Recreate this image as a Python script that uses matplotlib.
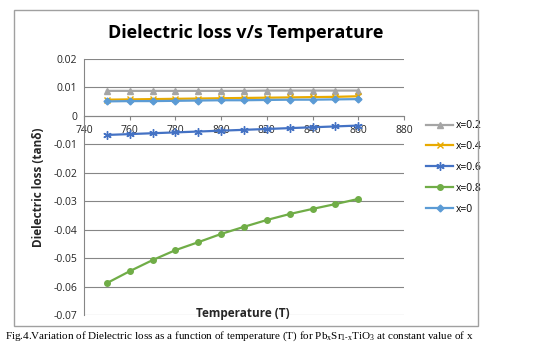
import matplotlib
matplotlib.use("Agg")
import matplotlib.pyplot as plt
from matplotlib.patches import Rectangle

temps = [750, 760, 770, 780, 790, 800, 810, 820, 830, 840, 850, 860]
loss_02 = [0.0088, 0.0088, 0.0088, 0.0088, 0.0088, 0.0088, 0.0088, 0.0089, 0.0089, 0.0089, 0.0089, 0.0089]
loss_04 = [0.0057, 0.0058, 0.0059, 0.0060, 0.0061, 0.0062, 0.0063, 0.0064, 0.0065, 0.0066, 0.0067, 0.0069]
loss_06 = [-0.0067, -0.0064, -0.0061, -0.0058, -0.0055, -0.0052, -0.0049, -0.0046, -0.0043, -0.0040, -0.0037, -0.0034]
loss_08 = [-0.0588, -0.0546, -0.0507, -0.0472, -0.0444, -0.0415, -0.0390, -0.0366, -0.0345, -0.0327, -0.0310, -0.0292]
loss_00 = [0.0051, 0.0052, 0.0052, 0.0053, 0.0054, 0.0055, 0.0055, 0.0056, 0.0057, 0.0057, 0.0058, 0.0059]

series = [
    ("x=0.2", loss_02, "#A5A5A5", "^", 5),
    ("x=0.4", loss_04, "#E8AA00", "x", 5),
    ("x=0.6", loss_06, "#4472C4", (6, 2, 0), 6),
    ("x=0.8", loss_08, "#70AD47", "o", 4),
    ("x=0", loss_00, "#5B9BD5", "D", 3.5),
]

plt.rcParams["font.family"] = ["Open Sans", "DejaVu Sans"]

fig = plt.figure(figsize=(5.36, 3.5), dpi=100)
fig.patches.append(Rectangle((14 / 536, 1 - 326 / 350), 464 / 536, 316 / 350,
                             transform=fig.transFigure, fill=False,
                             edgecolor="#A0A0A0", linewidth=1.0))

ax = fig.add_axes([84 / 536, 35 / 350, 320 / 536, 256 / 350])
for name, vals, col, mk, ms in series:
    ax.plot(temps, vals, color=col, marker=mk, markersize=ms, linewidth=1.6,
            label=name, markeredgewidth=1.0)

ax.set_xlim(740, 880)
ax.set_ylim(-0.07, 0.02)
ax.set_xticks(range(740, 881, 20))
ax.set_yticks([0.02, 0.01, 0, -0.01, -0.02, -0.03, -0.04, -0.05, -0.06, -0.07])
ax.set_yticklabels(["0.02", "0.01", "0", "-0.01", "-0.02", "-0.03", "-0.04", "-0.05", "-0.06", "-0.07"])
ax.tick_params(labelsize=7.5, colors="#262626", length=3)
ax.tick_params(axis="y", length=0, pad=5)
ax.spines["bottom"].set_position(("data", 0))
for s in ["top", "right"]:
    ax.spines[s].set_visible(False)
ax.spines["left"].set_color("#868686")
ax.spines["bottom"].set_color("#868686")
ax.tick_params(axis="x", color="#868686")
ax.yaxis.grid(True, color="#868686", linewidth=0.8)
ax.set_axisbelow(True)

fig.text(246 / 536, 1 - 33 / 350, "Dielectric loss v/s Temperature",
         ha="center", va="center", fontsize=13, fontweight="bold")
fig.text(243 / 536, 1 - 314 / 350, "Temperature (T)", ha="center", va="center",
         fontsize=8.5, fontweight="bold", color="#262626")
fig.text(39 / 536, 1 - 187 / 350, "Dielectric loss (tanδ)", ha="center", va="center",
         rotation=90, fontsize=8.5, fontweight="bold", color="#262626")

ax.legend(loc="upper left", bbox_to_anchor=(422 / 536, 1 - 116 / 350),
          bbox_transform=fig.transFigure, frameon=False, fontsize=7.5,
          handlelength=2.6, labelspacing=0.95, handletextpad=0.2,
          borderaxespad=0)

fig.text(5 / 536, 1 - 336 / 350,
         "Fig.4.Variation of Dielectric loss as a function of temperature (T) for Pb$_\\mathregular{x}$Sr$_\\mathregular{1\u2010x}$TiO$_\\mathregular{3}$ at constant value of x",
         ha="left", va="center", fontsize=8, family="Liberation Serif")

fig.savefig("out.png", dpi=100)
